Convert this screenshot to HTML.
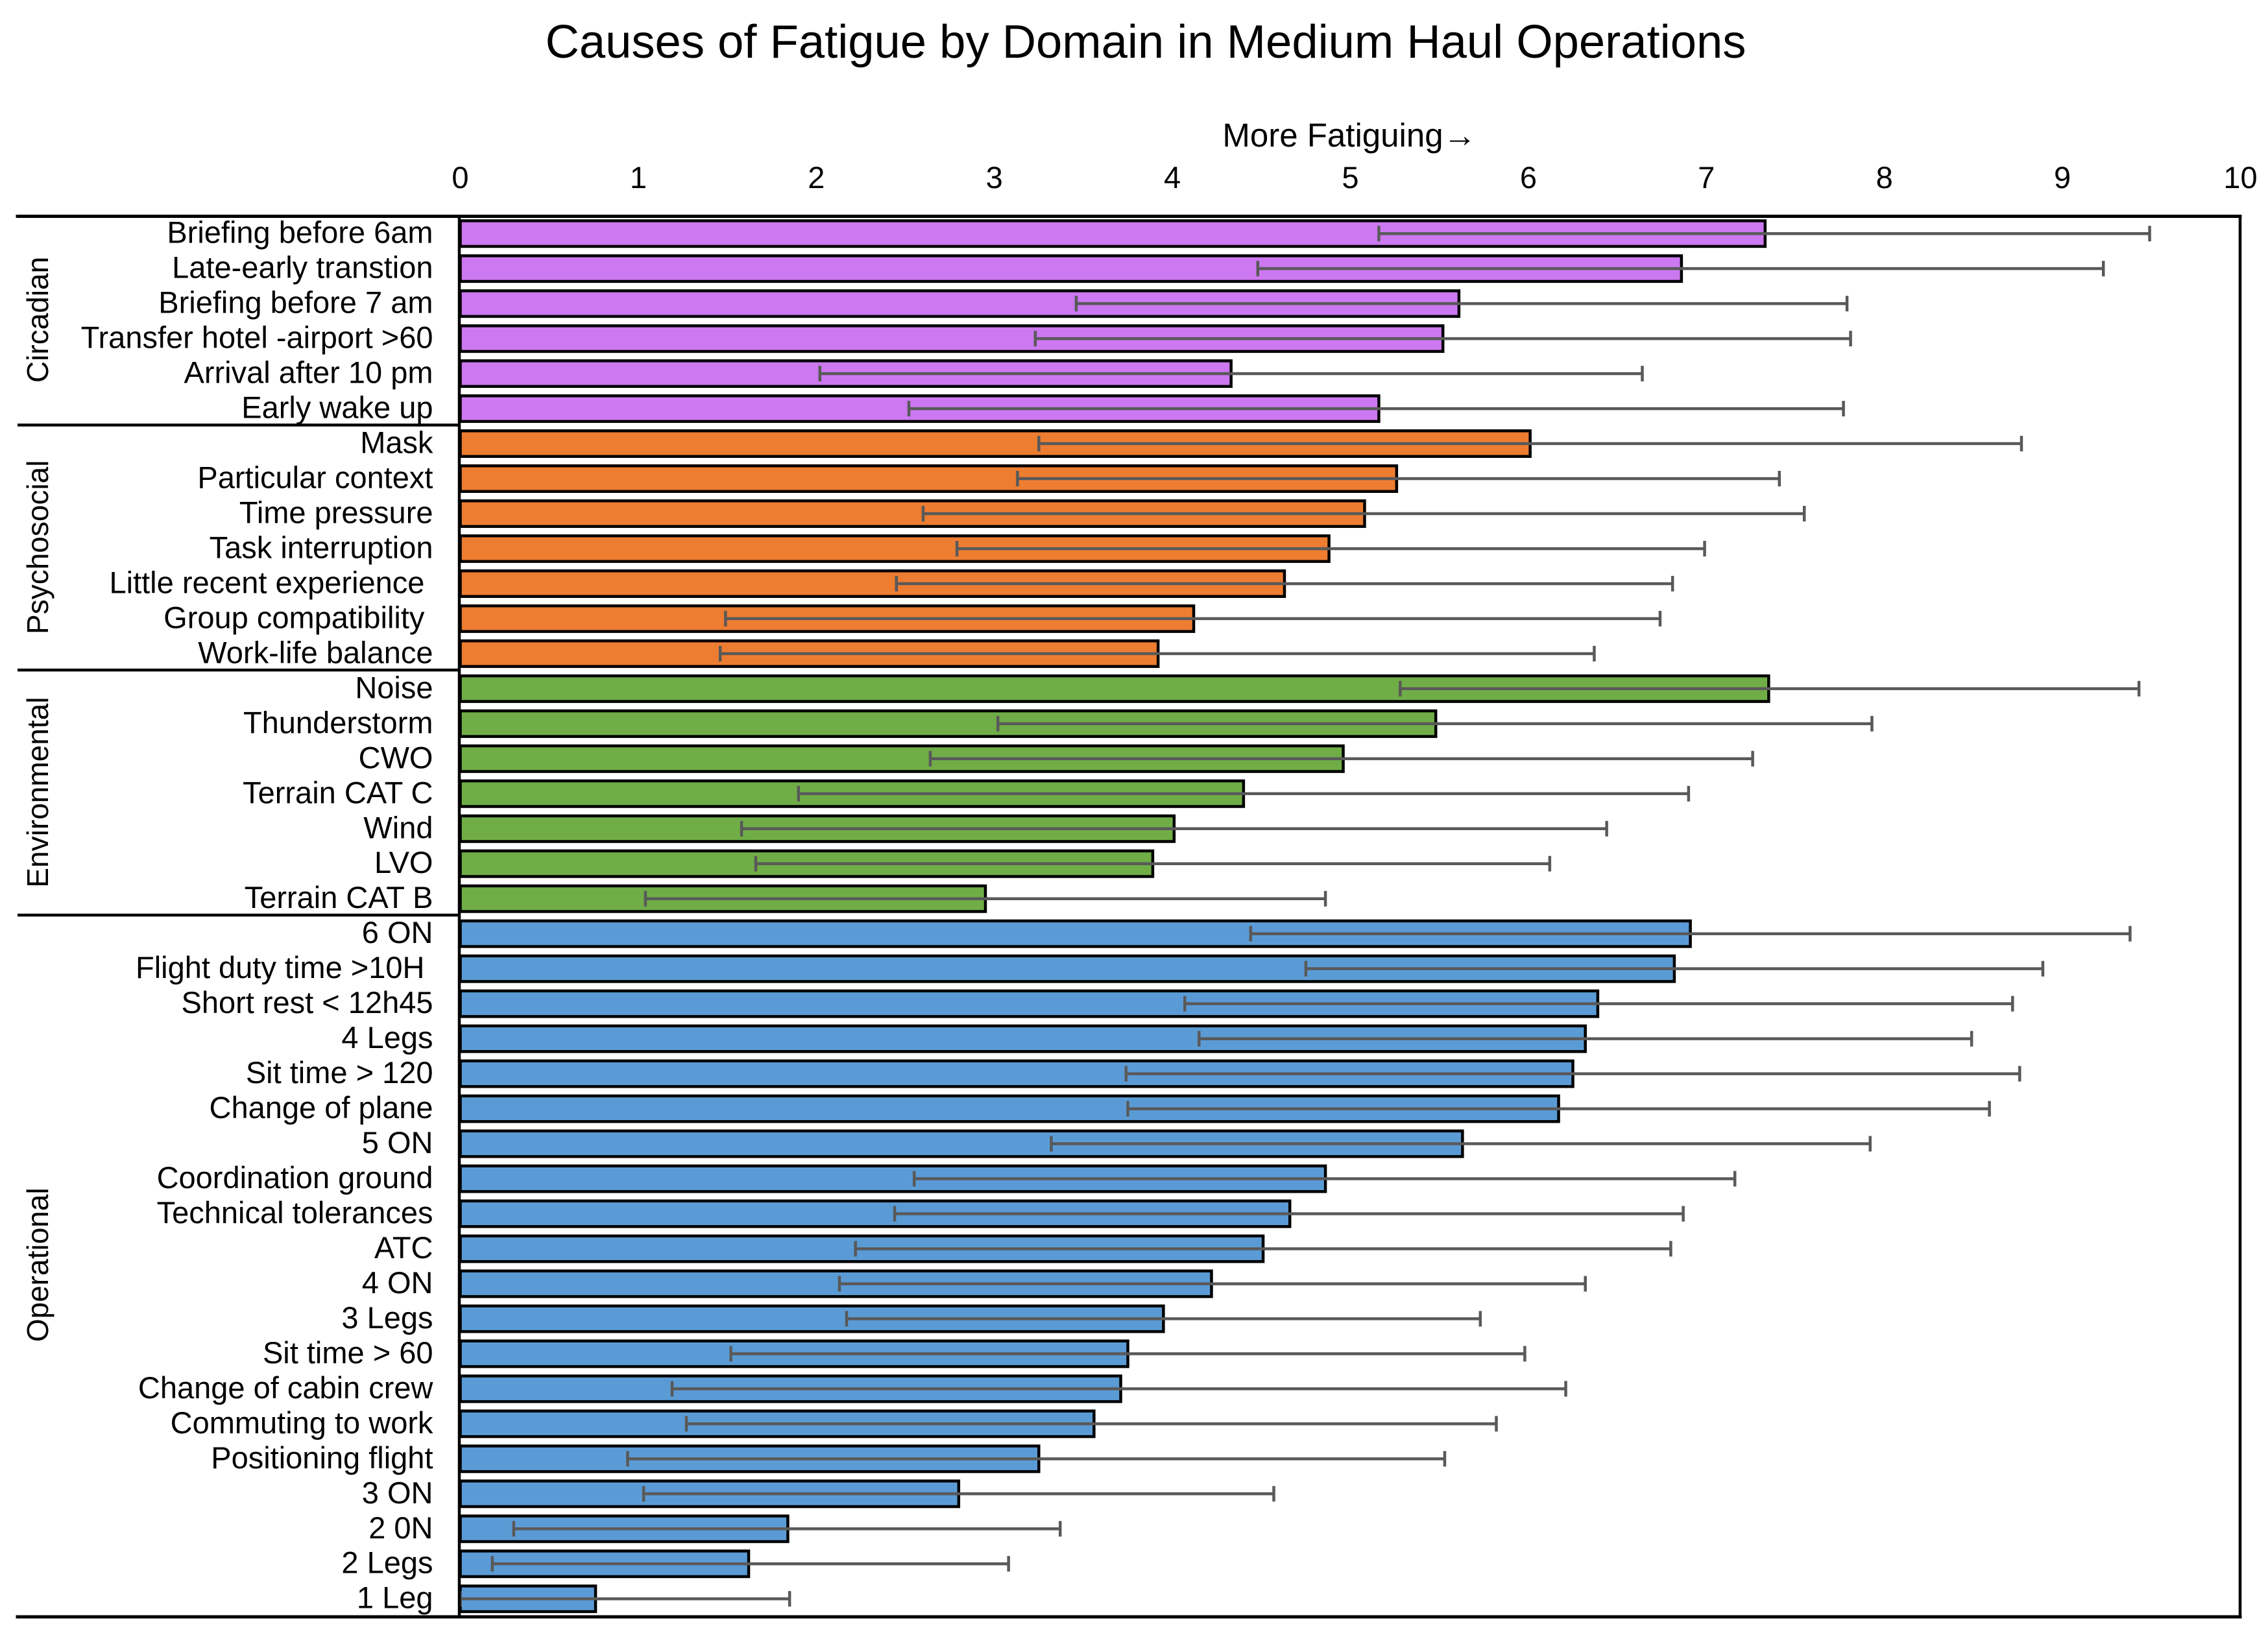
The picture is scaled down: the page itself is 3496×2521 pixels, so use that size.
<!DOCTYPE html>
<html lang="en">
<head>
<meta charset="utf-8">
<title>Causes of Fatigue by Domain in Medium Haul Operations</title>
<style>
html,body{margin:0;padding:0;background:#fff;width:3496px;height:2521px;overflow:hidden}
svg{display:block}
text{font-family:"Liberation Sans",Arial,sans-serif;fill:#000;white-space:pre}
</style>
</head>
<body>
<svg id="chart" xmlns="http://www.w3.org/2000/svg" width="3496" height="2521" viewBox="0 0 3496 2521">
  <rect x="0" y="0" width="3496" height="2521" fill="#ffffff"/>
  <text x="1766" y="89" font-size="72.4" text-anchor="middle">Causes of Fatigue by Domain in Medium Haul Operations</text>
  <text x="2080" y="226" font-size="51" text-anchor="middle">More Fatiguing→</text>
  <g id="ticks"></g>
  <g id="bars"></g>
  <g id="errors"></g>
  <g id="labels"></g>
  <g id="groups"></g>
  <g id="frame"></g>
</svg>
<script>
const categories = ["Briefing before 6am","Late-early transtion","Briefing before 7 am","Transfer hotel -airport >60","Arrival after 10 pm","Early wake up","Mask","Particular context","Time pressure","Task interruption","Little recent experience ","Group compatibility ","Work-life balance","Noise","Thunderstorm","CWO","Terrain CAT C","Wind","LVO","Terrain CAT B","6 ON","Flight duty time >10H ","Short rest < 12h45","4 Legs","Sit time > 120","Change of plane","5 ON","Coordination ground","Technical tolerances","ATC","4 ON","3 Legs","Sit time > 60","Change of cabin crew","Commuting to work","Positioning flight","3 ON","2 0N","2 Legs","1 Leg"];
const means = [7.33,6.86,5.61,5.52,4.33,5.16,6.01,5.26,5.08,4.88,4.63,4.12,3.92,7.35,5.48,4.96,4.40,4.01,3.89,2.95,6.91,6.82,6.39,6.32,6.25,6.17,5.63,4.86,4.66,4.51,4.22,3.95,3.75,3.71,3.56,3.25,2.80,1.84,1.62,0.76];
const errLow = [5.16,4.48,3.46,3.23,2.02,2.52,3.25,3.13,2.60,2.79,2.45,1.49,1.46,5.28,3.02,2.64,1.90,1.58,1.66,1.04,4.44,4.75,4.07,4.15,3.74,3.75,3.32,2.55,2.44,2.22,2.13,2.17,1.52,1.19,1.27,0.94,1.03,0.30,0.18,0.00];
const errHigh = [9.49,9.23,7.79,7.81,6.64,7.77,8.77,7.41,7.55,6.99,6.81,6.74,6.37,9.43,7.93,7.26,6.90,6.44,6.12,4.86,9.38,8.89,8.72,8.49,8.76,8.59,7.92,7.16,6.87,6.80,6.32,5.73,5.98,6.21,5.82,5.53,4.57,3.37,3.08,1.85];
const domains = ["Circadian","Psychosocial","Environmental","Operational"];
const domainCounts = [6,7,7,20];
const domainColors = ["#CC78F0","#ED7D31","#70AD47","#5B9BD5"];
const xTicks = [0,1,2,3,4,5,6,7,8,9,10];

const dataLeft = 709.5, dataRight = 3453.5, plotLeft = 708, plotRight = 3453, plotTop = 333.5, plotBottom = 2493, frameLeft = 27;
const NS = "http://www.w3.org/2000/svg";
function xScale(v){ return dataLeft + (dataRight - dataLeft) * v / 10; }
function band(){ return 2159 / categories.length; }
function yStart(i){ return 334 + band() * i; }
function yCenter(i){ return yStart(i) + band() / 2 - 0.8; }
function make(parent, tag, attrs, txt){
  const el = document.createElementNS(NS, tag);
  for (const k in attrs) el.setAttribute(k, attrs[k]);
  if (txt !== undefined) el.textContent = txt;
  document.getElementById(parent).appendChild(el);
  return el;
}

xTicks.forEach(function(t){
  const el = make("ticks", "text", {x: xScale(t), y: 290, "font-size": 47, "text-anchor": "middle"}, String(t));
  
  
});

let start = 0;
domains.forEach(function(name, d){
  const count = domainCounts[d];
  for (let i = start; i < start + count; i++) {
    const h = 39.5;
    const bar = make("bars", "rect", {
      x: xScale(0), y: yCenter(i) - h / 2, width: xScale(means[i]) - xScale(0), height: h,
      fill: domainColors[d], stroke: "#000", "stroke-width": 4.5
    });
    
    

    const line = make("errors", "line", {
      x1: xScale(errLow[i]), x2: xScale(errHigh[i]), y1: yCenter(i), y2: yCenter(i),
      stroke: "#595959", "stroke-width": 4.5
    });
    
    

    const capLow = make("errors", "line", {
      x1: xScale(errLow[i]), x2: xScale(errLow[i]), y1: yCenter(i) - 12, y2: yCenter(i) + 12,
      stroke: "#595959", "stroke-width": 4.5
    });
    
    

    const capHigh = make("errors", "line", {
      x1: xScale(errHigh[i]), x2: xScale(errHigh[i]), y1: yCenter(i) - 12, y2: yCenter(i) + 12,
      stroke: "#595959", "stroke-width": 4.5
    });
    
    

    const label = make("labels", "text", {x: 667.5, y: yCenter(i) + 14.5, "font-size": 47, "text-anchor": "end"}, categories[i]);
    
    
  }
  const mid = (yStart(start) + yStart(start + count)) / 2 - 3;
  const groupLabel = make("groups", "text", {
    transform: "translate(74 " + mid + ") rotate(-90)", "font-size": 46, "text-anchor": "middle"
  }, name);
  
  
  if (d > 0) {
    const yd = yStart(start) - 2.5;
    const div = make("groups", "line", {x1: frameLeft, x2: plotLeft, y1: yd, y2: yd, stroke: "#000", "stroke-width": 4.5});
    
    
  }
  start += count;
});

const frameLines = [
  [frameLeft, plotTop, plotRight, plotTop, 5],
  [frameLeft, plotBottom, plotRight, plotBottom, 5],
  [plotLeft, plotTop, plotLeft, plotBottom, 4.5],
  [plotRight, plotTop, plotRight, plotBottom, 4.5]
];
frameLines.forEach(function(f){
  const el = make("frame", "line", {x1: f[0], y1: f[1], x2: f[2], y2: f[3], stroke: "#000", "stroke-width": f[4], "stroke-linecap": "square"});
  
  
});
</script>
</body>
</html>
